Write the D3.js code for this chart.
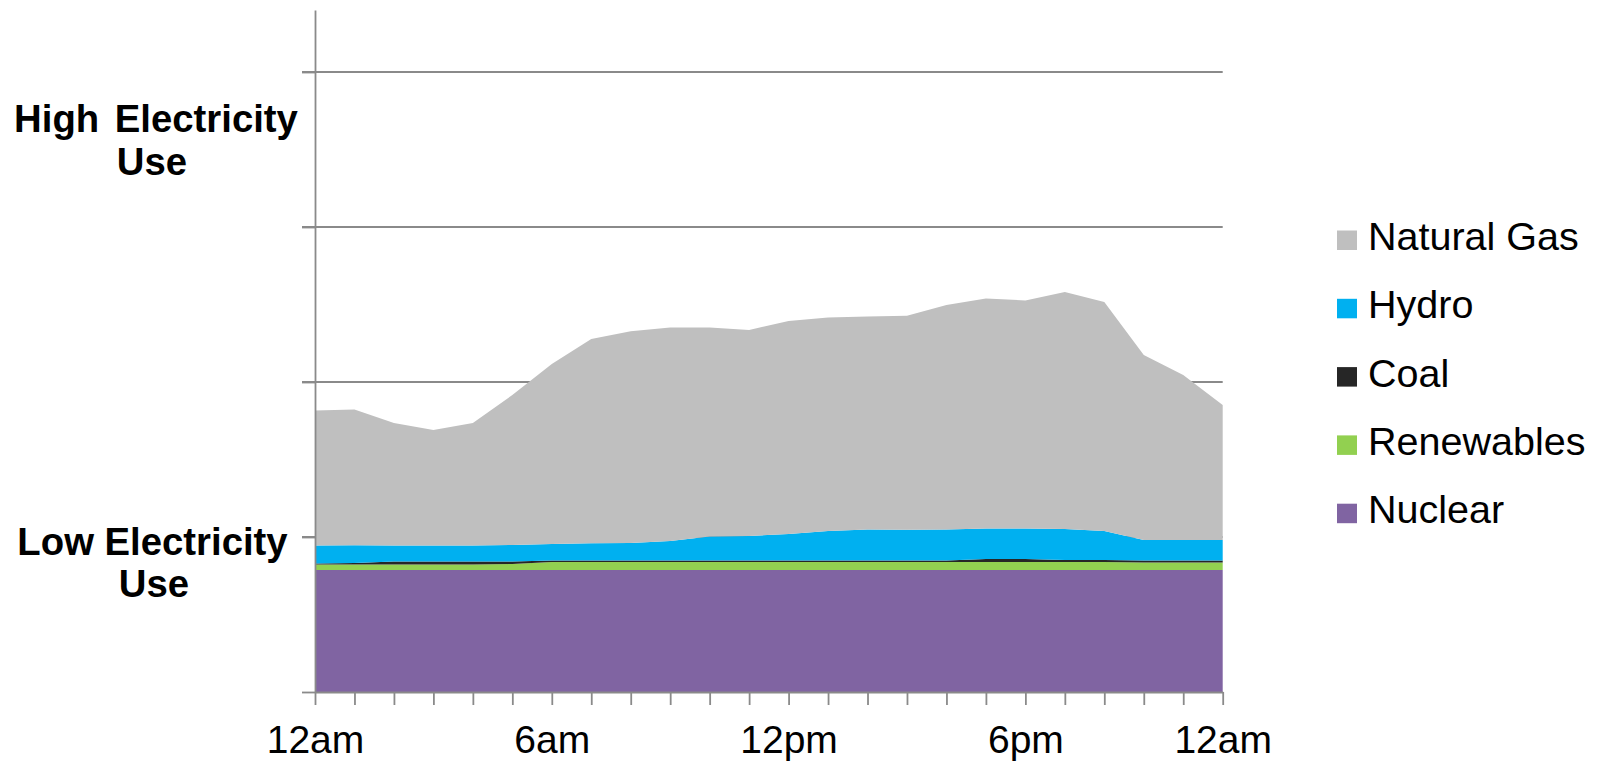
<!DOCTYPE html>
<html>
<head>
<meta charset="utf-8">
<script src="https://cdn.jsdelivr.net/npm/d3@7"></script>
<style>
  html, body { margin: 0; padding: 0; background: #ffffff; }
  svg { display: block; }
  text { font-family: "Liberation Sans", Arial, sans-serif; fill: #000; }
</style>
</head>
<body>
<svg id="chart" width="1598" height="762"></svg>
<script>
// ---- data ----
const hours = [0,1,2,3,4,5,6,7,8,9,10,11,12,13,14,15,16,17,18,19,20,21,22,23];
const tickLabelIdx = [0, 6, 12, 18, 23];
const tickLabels = ["12am", "6am", "12pm", "6pm", "12am"];
const seriesNames = ["Nuclear", "Renewables", "Coal", "Hydro", "Natural Gas"];
const nuclear    = [7.87,7.87,7.87,7.87,7.87,7.87,7.87,7.87,7.87,7.87,7.87,7.87,7.87,7.87,7.87,7.87,7.87,7.87,7.87,7.87,7.87,7.87,7.87,7.87];
const renewables = [0.36,0.36,0.36,0.36,0.36,0.39,0.52,0.52,0.52,0.52,0.52,0.52,0.52,0.52,0.52,0.52,0.52,0.52,0.52,0.52,0.52,0.48,0.48,0.48];
const coal       = [0.06,0.10,0.19,0.19,0.19,0.16,0.10,0.10,0.10,0.10,0.10,0.10,0.10,0.10,0.10,0.10,0.10,0.19,0.19,0.13,0.13,0.13,0.13,0.13];
const hydro      = [1.16,1.13,1.03,1.03,1.03,1.06,1.06,1.10,1.13,1.26,1.55,1.58,1.71,1.90,2.00,1.97,2.00,1.97,1.97,2.00,1.87,1.32,1.32,1.32];
const naturalGas = [8.71,8.77,7.90,7.45,7.90,9.68,11.61,13.19,13.65,13.77,13.48,13.29,13.74,13.77,13.74,13.81,14.48,14.84,14.71,15.29,14.77,11.94,10.65,8.71];
const gridValues = [10, 20, 30, 40];
const yTicks = [0, 10, 20, 30, 40];
const legendOrder = ["Natural Gas", "Hydro", "Coal", "Renewables", "Nuclear"];
const colors = {
  "Nuclear": "#8064a2",
  "Renewables": "#92d050",
  "Coal": "#262626",
  "Hydro": "#00b0f0",
  "Natural Gas": "#bfbfbf"
};

// ---- build table ----
const seriesValues = {
  "Nuclear": nuclear, "Renewables": renewables, "Coal": coal,
  "Hydro": hydro, "Natural Gas": naturalGas
};
const table = hours.map((h, i) => {
  const row = { hour: h };
  seriesNames.forEach(k => row[k] = seriesValues[k][i]);
  return row;
});

const svg = d3.select("#chart");
const x = d3.scaleLinear().domain([0, 23]).range([315, 1222.7]);
const y = d3.scaleLinear().domain([0, 44]).range([692, 10]);
const axisColor = "#8a8a8a";

// gridlines (behind areas)
svg.append("g").selectAll("line").data(gridValues).join("line")
  .attr("x1", 302).attr("x2", 1222.7)
  .attr("y1", d => y(d)).attr("y2", d => y(d))
  .attr("stroke", axisColor).attr("stroke-width", 1.8);

// stacked areas
const stack = d3.stack().keys(seriesNames);
const layers = stack(table);
const area = d3.area()
  .x(d => x(d.data.hour))
  .y0(d => y(d[0]))
  .y1(d => y(d[1]))
  .curve(d3.curveLinear);

svg.append("g").selectAll("path").data(layers).join("path")
  .attr("d", area)
  .attr("fill", d => colors[d.key]);

// x axis
const xAxis = d3.axisBottom(x)
  .tickValues(hours)
  .tickSize(13)
  .tickSizeOuter(0)
  .tickFormat(h => {
    const k = tickLabelIdx.indexOf(h);
    return k >= 0 ? tickLabels[k] : "";
  });
const gx = svg.append("g").attr("transform", "translate(0,692)").call(xAxis);
gx.select(".domain").attr("stroke", axisColor).attr("stroke-width", 1.8);
gx.selectAll(".tick line").attr("stroke", axisColor).attr("stroke-width", 1.8);
gx.selectAll(".tick text")
  .attr("y", 61).attr("dy", 0)
  .style("font-size", "39px")
  .style("font-family", "'Liberation Sans', Arial, sans-serif")
  .attr("fill", "#000");

// y axis
const yAxis = d3.axisLeft(y).tickValues(yTicks).tickSize(13).tickSizeOuter(0).tickFormat("");
const gy = svg.append("g").attr("transform", "translate(315,0)").call(yAxis);
gy.select(".domain").attr("stroke", axisColor).attr("stroke-width", 1.8);
gy.selectAll(".tick line").attr("stroke", axisColor).attr("stroke-width", 1.8);

// y-axis descriptive labels
const yLabels = [
  { text: "High Electricity", x: 156, y: 131.7 },
  { text: "Use", x: 152, y: 175 },
  { text: "Low Electricity", x: 152.5, y: 555 },
  { text: "Use", x: 154, y: 597 }
];
svg.append("g").selectAll("text").data(yLabels).join("text")
  .attr("x", d => d.x).attr("y", d => d.y)
  .attr("text-anchor", "middle")
  .style("font-size", "38.3px")
  .style("font-weight", "bold")
  .style("word-spacing", d => d.text.startsWith("High") ? "5px" : "0px")
  .text(d => d.text);

// legend
const lg = svg.append("g");
const legendItems = lg.selectAll("g").data(legendOrder).join("g")
  .attr("transform", (d, i) => `translate(1337,${250 + i * 68.3})`);
legendItems.append("rect")
  .attr("x", 0).attr("y", -19.5).attr("width", 20).attr("height", 19.5)
  .attr("fill", d => colors[d]);
legendItems.append("text")
  .attr("x", 31).attr("y", 0)
  .style("font-size", "39.5px")
  .text(d => d);
</script>
</body>
</html>
